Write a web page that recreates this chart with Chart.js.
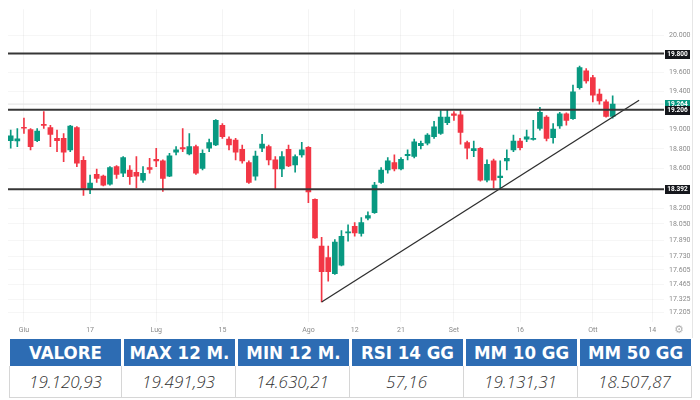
<!DOCTYPE html>
<html><head><meta charset="utf-8">
<script src="https://cdn.jsdelivr.net/npm/chart.js@4.4.1/dist/chart.umd.min.js"></script>
<style>
html,body{margin:0;padding:0;background:#fff;width:700px;height:400px;overflow:hidden;}
#wrap{position:relative;width:700px;height:400px;}
#c{position:absolute;left:0;top:0;}
#vline{position:absolute;left:692px;top:0;width:1px;height:338px;background:#e6e6e6;}
#gear{position:absolute;left:674px;top:323px;font:11px 'DejaVu Sans',sans-serif;color:#b0b0b0;}
.hd{position:absolute;top:339px;height:27px;background:#2d6cb3;color:#fff;font-family:'Liberation Sans Narrow','DejaVu Sans Condensed','Roboto',sans-serif;font-weight:bold;font-size:18.5px;line-height:28px;text-align:center;white-space:nowrap;overflow:hidden;}
.vl{position:absolute;top:366px;height:32px;box-sizing:border-box;border-bottom:1px solid #d6d6d6;border-right:1px solid #d6d6d6;color:#333;font-family:'Open Sans','Roboto',sans-serif;font-style:italic;font-weight:300;font-size:17px;line-height:31px;text-align:center;white-space:nowrap;}
</style></head>
<body><div id="wrap">
<canvas id="c" width="700" height="338"></canvas>
<div id="vline"></div>
<div id="gear">⚙</div>
</div>
<script>
// ---- data ----
const opens  = [18884,18881,19023,19000,18884,19054,19020,18908,18908,18790,19020,18685,18393,18542,18525,18444,18620,18553,18586,18563,18484,18610,18695,18678,18525,18766,18813,18749,18823,18603,18807,18840,19044,18901,18891,18797,18660,18525,18807,18823,18688,18596,18797,18637,18739,18817,18291,17833,17721,17568,17650,17961,18025,17955,18105,18159,18461,18586,18660,18596,18731,18725,18833,18858,18925,18959,19071,19163,19153,18864,18782,18807,18484,18678,18508,18678,18790,18881,18901,18898,19010,19128,18915,19037,19163,19112,19438,19615,19544,19369,19288,19135];
const highs  = [18993,19010,19118,19010,19010,19186,19044,18993,18959,19044,19029,18721,18535,18596,18535,18620,18630,18721,18630,18721,18620,18705,18807,18688,18756,18823,19010,18959,18840,18790,18901,19102,19061,18925,18908,18840,18678,18779,18949,18840,18721,18772,18840,18739,18868,18823,18298,17919,17833,17897,17983,18041,18063,18111,18169,18461,18610,18711,18739,18711,18790,18901,18881,18959,19084,19196,19203,19186,19196,18881,18881,18813,18688,18698,18678,18790,18942,18908,18993,19095,19230,19145,19061,19179,19173,19464,19667,19639,19569,19421,19309,19351];
const lows   = [18807,18823,18959,18790,18874,19010,18823,18772,18670,18772,18620,18332,18349,18461,18426,18434,18502,18518,18441,18406,18461,18553,18620,18372,18518,18739,18772,18739,18542,18586,18772,18833,18908,18790,18688,18654,18451,18484,18772,18637,18390,18518,18620,18563,18715,18259,17907,17299,17497,17561,17641,17881,17929,17929,18089,18153,18451,18553,18576,18586,18688,18708,18800,18840,18908,18949,19051,19095,18848,18698,18721,18474,18467,18406,18406,18586,18772,18790,18874,18891,18993,18881,18858,19010,19044,19105,19421,19485,19288,19264,19128,19118];
const closes = [18935,18904,19013,18823,18983,19041,18949,18884,18766,19034,18654,18400,18454,18502,18434,18610,18542,18711,18518,18525,18553,18593,18678,18502,18731,18790,18800,18823,18553,18756,18864,19095,18925,18840,18766,18678,18461,18728,18851,18688,18596,18721,18627,18721,18790,18365,17913,17587,17587,17871,17929,17971,17961,18063,18130,18434,18586,18678,18596,18695,18746,18874,18858,18942,19027,19128,19128,19145,18970,18807,18803,18484,18644,18484,18525,18705,18881,18813,18925,18908,19179,18908,19003,19163,19095,19393,19649,19509,19358,19298,19135,19264];

const xTickIndex  = [2, 12, 22, 32, 45, 52, 59, 67, 77, 88, 97];
const xTickLabels = ['Giu','17','Lug','15','Ago','12','21','Set','16','Ott','14'];
const yTicks = [20000,19600,19400,19000,18800,18600,18200,18050,17890,17730,17605,17465,17325,17205];
const levels = [19800, 19206, 18392];
const trendIdx = [47, 95];
const trendVal = [17299, 19305];
const xRange = [-0.41, 98.76];
const yRange = [17112, 20284];

const tableHeaders = ['VALORE','MAX 12 M.','MIN 12 M.','RSI 14 GG','MM 10 GG','MM 50 GG'];
const tableValues  = ['19.120,93','19.491,93','14.630,21','57,16','19.131,31','18.507,87'];

// ---- styles ----
const GREEN = '#089981', RED = '#f23645';
const fmt = v => String(Math.round(v)).replace(/\B(?=(\d{3})+(?!\d))/g, '.');
const lastClose = closes[closes.length - 1];

const cols = closes.map((c, i) => c >= opens[i] ? GREEN : RED);
const bodies = closes.map((c, i) => ({x: i, y: [opens[i], c]}));
const wicks  = closes.map((c, i) => ({x: i, y: [lows[i], highs[i]]}));
const hLine = v => [{x: xRange[0], y: v}, {x: xRange[1], y: v}];

const lineBase = {type: 'line', pointRadius: 0, tension: 0, fill: false};
const datasets = [];
levels.forEach(v => datasets.push(Object.assign({}, lineBase, {data: hLine(v), borderColor: '#363636', borderWidth: 2, order: 0})));
datasets.push(Object.assign({}, lineBase, {data: trendIdx.map((x, i) => ({x, y: trendVal[i]})), borderColor: '#2e2e2e', borderWidth: 1.3, order: 0}));
datasets.push(Object.assign({}, lineBase, {data: hLine(lastClose), borderColor: '#e2e2e2', borderWidth: 1, order: 5}));
datasets.push({type: 'bar', data: bodies, backgroundColor: cols, borderWidth: 0, barThickness: 5, grouped: false, order: 1});
datasets.push({type: 'bar', data: wicks, backgroundColor: cols, borderWidth: 0, barThickness: 1, grouped: false, order: 2});

const boxPlugin = {
  id: 'boxes',
  afterDraw(chart) {
    const ctx = chart.ctx, ys = chart.scales.y, r = chart.chartArea.right;
    const items = [{v: lastClose, bg: GREEN}].concat(levels.map(v => ({v, bg: '#15171c'})));
    ctx.save();
    items.forEach(it => {
      const y = ys.getPixelForValue(it.v);
      ctx.fillStyle = it.bg;
      ctx.fillRect(r + 1, Math.round(y) - 4, 25, 9);
      ctx.fillStyle = '#fff';
      ctx.font = 'bold 6.5px Roboto, sans-serif';
      ctx.textAlign = 'center';
      ctx.textBaseline = 'middle';
      ctx.fillText(fmt(it.v), r + 13.5, Math.round(y) + 0.5);
    });
    ctx.restore();
  }
};

new Chart(document.getElementById('c'), {
  type: 'bar',
  data: {datasets},
  plugins: [boxPlugin],
  options: {
    responsive: false, animation: false,
    layout: {padding: {left: 8, top: 8, right: 0, bottom: 0}},
    plugins: {legend: {display: false}, tooltip: {enabled: false}},
    scales: {
      x: {
        type: 'linear', min: xRange[0], max: xRange[1], bounds: 'data', offset: false,
        grid: {color: 'rgba(0,0,0,0.045)', drawTicks: false, offset: false},
        border: {display: false},
        afterBuildTicks: s => { s.ticks = xTickIndex.map(v => ({value: v})); },
        afterFit: s => { s.height = 16; },
        ticks: {autoSkip: false, maxRotation: 0, padding: 4, color: '#8a8a8a',
          font: {size: 7, family: 'Roboto'},
          callback: (v, i) => xTickLabels[i]}
      },
      y: {
        type: 'logarithmic', position: 'right', min: yRange[0], max: yRange[1], bounds: 'data',
        grid: {color: 'rgba(0,0,0,0.035)', drawTicks: false},
        border: {display: false},
        afterBuildTicks: s => { s.ticks = yTicks.map(v => ({value: v})); },
        afterFit: s => { s.width = 36; },
        ticks: {padding: 5, color: '#8a8a8a', font: {size: 7, family: 'Roboto'},
          callback: (v, i) => fmt(yTicks[i])}
      }
    }
  }
});

// ---- table ----
const wrap = document.getElementById('wrap');
tableHeaders.forEach((h, i) => {
  const d = document.createElement('div');
  d.className = 'hd';
  d.style.left = (10 + i * 114) + 'px';
  d.style.width = '111px';
  d.textContent = h;
  wrap.appendChild(d);
  const v = document.createElement('div');
  v.className = 'vl';
  const l = i === 0 ? 9 : 10 + i * 114 - 2;
  v.style.left = l + 'px';
  v.style.width = (10 + i * 114 + 112 - l) + 'px';
  if (i === 0) v.style.borderLeft = '1px solid #d6d6d6';
  v.textContent = tableValues[i];
  wrap.appendChild(v);
});
</script>
</body></html>
